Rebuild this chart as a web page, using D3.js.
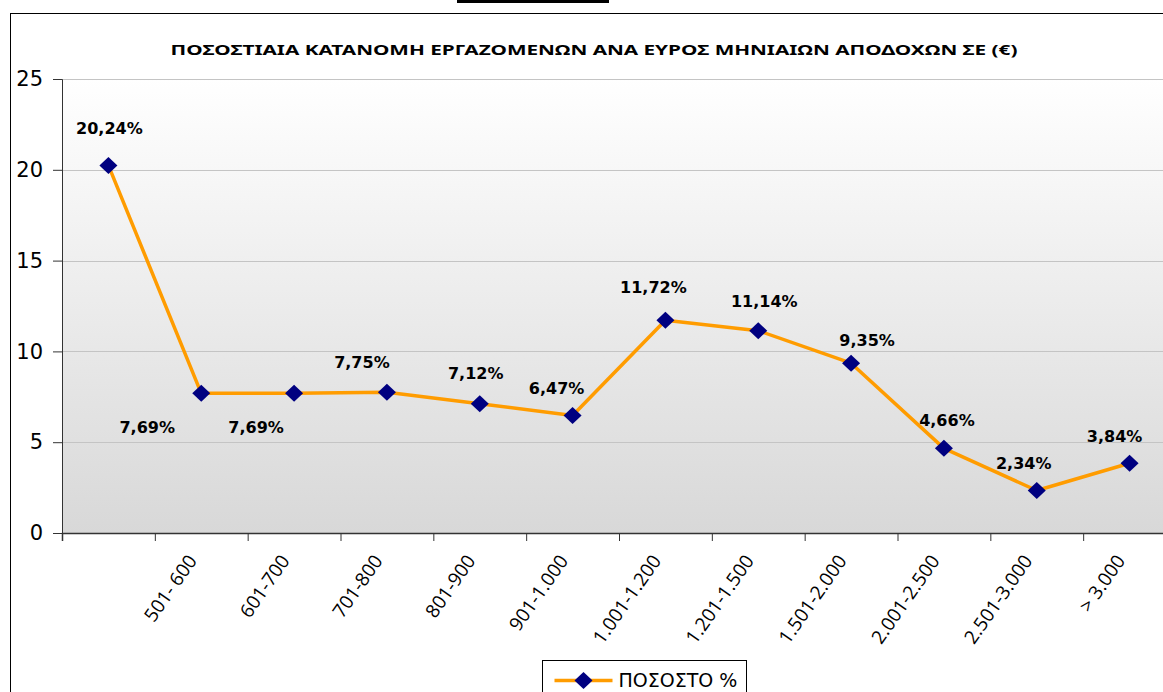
<!DOCTYPE html>
<html>
<head>
<meta charset="utf-8">
<script src="https://cdn.jsdelivr.net/npm/d3@7"></script>
<style>
    body { margin: 0; background: #fff; }
    svg { display: block; }
</style>
</head>
<body>
<script>

// data
var categories = ["", "501- 600", "601-700", "701-800", "801-900", "901-1.000",
    "1.001-1.200", "1.201-1.500", "1.501-2.000", "2.001-2.500", "2.501-3.000", "> 3.000"];
var values = [20.24, 7.69, 7.69, 7.75, 7.12, 6.47, 11.72, 11.14, 9.35, 4.66, 2.34, 3.84];
var valueLabels = ["20,24%", "7,69%", "7,69%", "7,75%", "7,12%", "6,47%",
    "11,72%", "11,14%", "9,35%", "4,66%", "2,34%", "3,84%"];
var yTicks = [0, 5, 10, 15, 20, 25];
var seriesName = "ΠΟΣΟΣΤΟ %";
var title = "ΠΟΣΟΣΤΙΑΙΑ ΚΑΤΑΝΟΜΗ ΕΡΓΑΖΟΜΕΝΩΝ ΑΝΑ ΕΥΡΟΣ ΜΗΝΙΑΙΩΝ ΑΠΟΔΟΧΩΝ ΣΕ  (€)";

// where excel put each data label, relative to its point
var labelOffsets = [[1, -37], [-54, 34], [-38, 34], [-25, -30], [-4, -30], [-16, -27],
    [-12, -33], [6, -29], [16, -23], [3, -28], [-13, -27], [-15, -27]];

var width = 1163, height = 692;
var plot = {left: 62, top: 79, right: 1176, bottom: 533};

var svg = d3.select("body").append("svg")
    .attr("width", width)
    .attr("height", height);

var defs = svg.append("defs");
var grad = defs.append("linearGradient")
    .attr("id", "plotbg")
    .attr("x1", 0).attr("y1", 0).attr("x2", 0).attr("y2", 1);
grad.append("stop").attr("offset", "0%").attr("stop-color", "#ffffff");
grad.append("stop").attr("offset", "100%").attr("stop-color", "#d8d8d8");

// bar above the chart frame
svg.append("rect")
    .attr("x", 457).attr("y", 0)
    .attr("width", 152).attr("height", 3)
    .attr("fill", "#000");

// chart frame
svg.append("rect")
    .attr("x", 10.5).attr("y", 13.5)
    .attr("width", 1200).attr("height", 760)
    .attr("fill", "#fff")
    .attr("stroke", "#000")
    .attr("stroke-width", 1);

svg.append("text")
    .attr("x", 594).attr("y", 55)
    .attr("text-anchor", "middle")
    .attr("font-family", "'Noto Sans', sans-serif")
    .attr("font-weight", "bold")
    .attr("font-size", 15)
    .attr("textLength", 847)
    .attr("lengthAdjust", "spacingAndGlyphs")
    .attr("fill", "#000")
    .text(title);

var xScale = d3.scaleBand()
    .domain(d3.range(categories.length))
    .range([plot.left, plot.right]);

var yScale = d3.scaleLinear()
    .domain([0, 25])
    .range([plot.bottom, plot.top]);

var cx = function (i) { return xScale(i) + xScale.bandwidth() / 2; };

svg.append("rect")
    .attr("x", plot.left).attr("y", plot.top)
    .attr("width", plot.right - plot.left)
    .attr("height", plot.bottom - plot.top)
    .attr("fill", "url(#plotbg)");

// gridlines
svg.append("g")
    .attr("class", "grid")
    .selectAll("line")
    .data(yTicks.filter(function (d) { return d > 0; }))
    .join("line")
    .attr("x1", plot.left).attr("x2", plot.right)
    .attr("y1", function (d) { return Math.round(yScale(d)) + 0.5; })
    .attr("y2", function (d) { return Math.round(yScale(d)) + 0.5; })
    .attr("stroke", "#c4c4c4")
    .attr("stroke-width", 1);

var axisLeft = d3.axisLeft(yScale)
    .tickValues(yTicks)
    .tickSize(9)
    .tickPadding(10);

var gy = svg.append("g")
    .attr("class", "axis axis-left")
    .attr("transform", "translate(" + plot.left + ",0)")
    .call(axisLeft);
gy.select(".domain").attr("stroke", "#333");
gy.selectAll(".tick line").attr("stroke", "#333");
gy.selectAll(".tick text")
    .attr("font-family", "'DejaVu Sans', sans-serif")
    .attr("font-size", 21)
    .attr("fill", "#000");

// category ticks sit on the band boundaries
var xBound = d3.scaleLinear()
    .domain([0, categories.length])
    .range([plot.left, plot.right]);

var axisBottom = d3.axisBottom(xBound)
    .tickValues(d3.range(categories.length))
    .tickSize(8)
    .tickFormat("");

var gx = svg.append("g")
    .attr("class", "axis axis-bottom")
    .attr("transform", "translate(0," + plot.bottom + ")")
    .call(axisBottom);
gx.select(".domain").attr("stroke", "#333").attr("stroke-width", 1.5);
gx.selectAll(".tick line").attr("stroke", "#333");

svg.append("g")
    .attr("class", "x-labels")
    .selectAll("text")
    .data(categories)
    .join("text")
    .attr("transform", function (d, i) {
        return "translate(" + (cx(i) - 9) + "," + (plot.bottom + 24) + ") rotate(-55)";
    })
    .attr("text-anchor", "end")
    .attr("dy", "0.35em")
    .attr("font-family", "'Open Sans', sans-serif")
    .attr("font-size", 19)
    .attr("fill", "#000")
    .text(function (d) { return d; });

// series
var line = d3.line()
    .x(function (d, i) { return cx(i); })
    .y(function (d) { return yScale(d); });

svg.append("path")
    .datum(values)
    .attr("d", line)
    .attr("fill", "none")
    .attr("stroke", "#ff9c00")
    .attr("stroke-width", 3.5)
    .attr("stroke-linejoin", "round");

var diamond = "M0,-8.5L9,0L0,8.5L-9,0Z";

svg.append("g")
    .attr("class", "markers")
    .selectAll("path")
    .data(values)
    .join("path")
    .attr("transform", function (d, i) { return "translate(" + cx(i) + "," + yScale(d) + ")"; })
    .attr("d", diamond)
    .attr("fill", "#000080");

svg.append("g")
    .attr("class", "data-labels")
    .selectAll("text")
    .data(values)
    .join("text")
    .attr("x", function (d, i) { return cx(i) + labelOffsets[i][0]; })
    .attr("y", function (d, i) { return yScale(d) + labelOffsets[i][1]; })
    .attr("dy", "0.35em")
    .attr("text-anchor", "middle")
    .attr("font-family", "'DejaVu Sans', sans-serif")
    .attr("font-weight", "bold")
    .attr("font-size", 16)
    .attr("fill", "#000")
    .text(function (d, i) { return valueLabels[i]; });

// legend
var legend = svg.append("g")
    .attr("class", "legend")
    .attr("transform", "translate(542.5,660.5)");

legend.append("rect")
    .attr("width", 204).attr("height", 60)
    .attr("fill", "#fff")
    .attr("stroke", "#000");

legend.append("line")
    .attr("x1", 12).attr("x2", 70)
    .attr("y1", 20).attr("y2", 20)
    .attr("stroke", "#ff9c00")
    .attr("stroke-width", 3.5);

legend.append("path")
    .attr("transform", "translate(41,20)")
    .attr("d", diamond)
    .attr("fill", "#000080");

legend.append("text")
    .attr("x", 76).attr("y", 20)
    .attr("dy", "0.35em")
    .attr("font-family", "'DejaVu Sans', sans-serif")
    .attr("font-size", 19)
    .attr("fill", "#000")
    .text(seriesName);

</script>
</body>
</html>
